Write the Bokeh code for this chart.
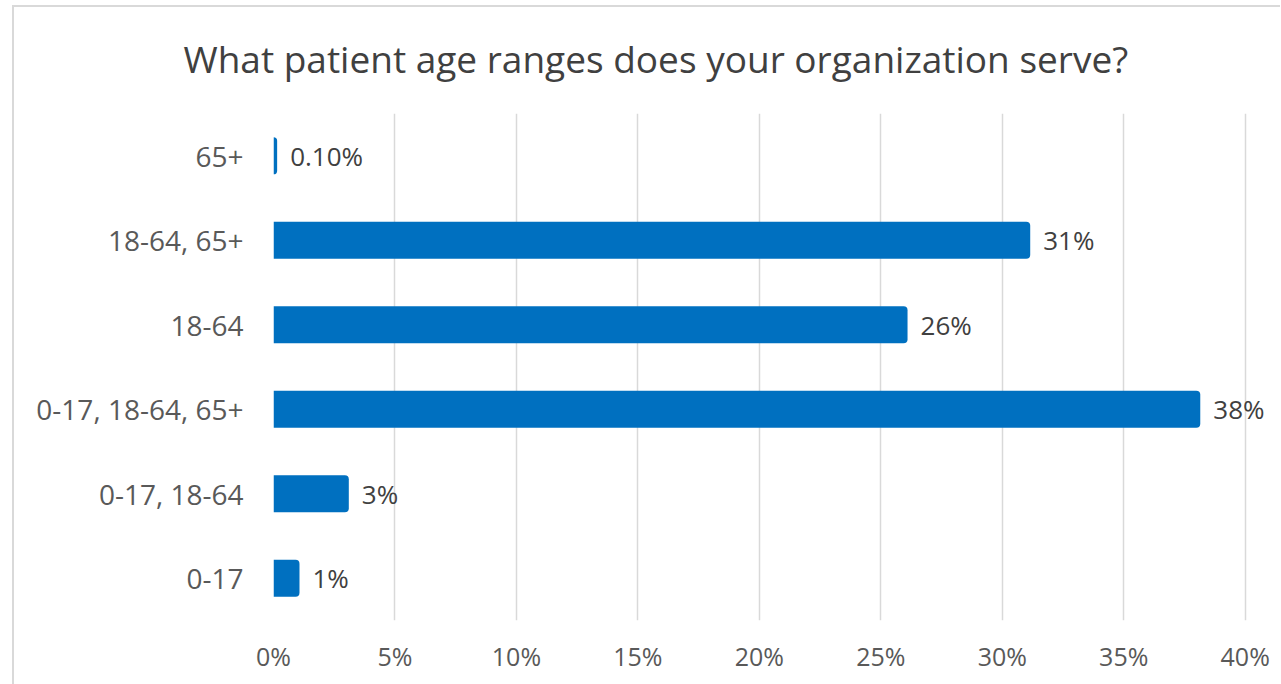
from bokeh.plotting import figure
from bokeh.models import (ColumnDataSource, FactorRange, Range1d, LabelSet, FixedTicker,
                          PrintfTickFormatter, InlineStyleSheet)
from bokeh.core.properties import value
from bokeh.embed import file_html
from bokeh.resources import INLINE

# Data (bottom to top)
categories = ["0-17", "0-17, 18-64", "0-17, 18-64, 65+", "18-64", "18-64, 65+", "65+"]
values = [1.07, 3.1, 38.15, 26.1, 31.15, 0.15]
value_labels = ["1%", "3%", "38%", "26%", "31%", "0.10%"]
x_ticks = [0, 5, 10, 15, 20, 25, 30, 35, 40]
title_text = "What patient age ranges does your organization serve?"

FONT = "Open Sans"

src = ColumnDataSource(dict(cat=categories, val=values, lab=value_labels))

border_css = InlineStyleSheet(css="""
:host::after {
  content: "";
  position: absolute;
  left: 12px; top: 5px; right: 0px; bottom: 0px;
  border-left: 2px solid #D9D9D9;
  border-top: 2px solid #D9D9D9;
  pointer-events: none;
}
""")

p = figure(
    width=1280, height=684,
    y_range=FactorRange(*categories, range_padding=0),
    x_range=Range1d(0, 41),
    output_backend="svg", toolbar_location=None,
    min_border_left=273, min_border_right=11, min_border_top=112, min_border_bottom=64,
    stylesheets=[border_css],
)
p.outline_line_color = None
p.background_fill_color = "white"
p.border_fill_color = "white"

p.hbar(y="cat", right="val", left=0, height=0.44, source=src,
       fill_color="#0070C0", line_color=None, border_radius=(0, 4, 4, 0))

labels = LabelSet(x="val", y="cat", text="lab", source=src, x_offset=13,
                  text_baseline="middle", text_align="left",
                  text_font=value(FONT), text_font_size="26px", text_color="#404040")
p.add_layout(labels)

p.title.text = title_text
p.title.text_font = FONT
p.title.text_font_size = "37px"
p.title.text_font_style = "normal"
p.title.text_color = "#404040"
p.title.align = "left"
p.title.offset = -90
p.title.standoff = 60

p.ygrid.visible = False
p.xgrid.grid_line_color = "#D9D9D9"
p.xgrid.grid_line_width = 1.5
p.xgrid.ticker = FixedTicker(ticks=x_ticks)

p.xaxis.ticker = FixedTicker(ticks=x_ticks)
p.xaxis.formatter = PrintfTickFormatter(format="%d%%")
p.xaxis.axis_line_color = None
p.xaxis.major_tick_line_color = None
p.xaxis.minor_tick_line_color = None
p.xaxis.major_label_standoff = 12
p.xaxis.major_label_text_font = FONT
p.xaxis.major_label_text_font_size = "25px"
p.xaxis.major_label_text_color = "#595959"

p.yaxis.axis_line_color = None
p.yaxis.major_tick_line_color = None
p.yaxis.major_label_standoff = 24
p.yaxis.major_label_text_font = FONT
p.yaxis.major_label_text_font_size = "28px"
p.yaxis.major_label_text_color = "#595959"

open("out.html", "w").write(file_html(p, INLINE))
